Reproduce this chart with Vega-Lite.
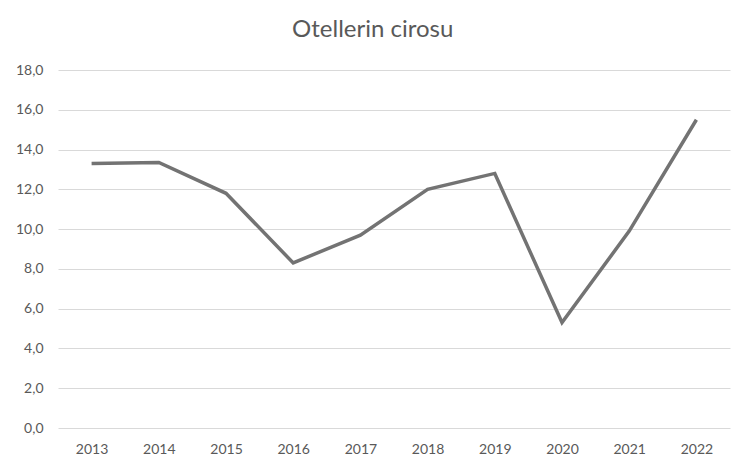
{
  "$schema": "https://vega.github.io/schema/vega-lite/v6.json",
  "autosize": {"type": "none"},
  "width": 672,
  "height": 358,
  "padding": {"left": 58, "top": 70, "right": 20, "bottom": 45},
  "background": "white",
  "title": {
    "text": "Otellerin cirosu",
    "font": "Lato",
    "fontSize": 24,
    "fontWeight": "normal",
    "color": "#595959",
    "anchor": "middle",
    "frame": "bounds",
    "offset": 21
  },
  "data": {
    "values": [
      {"year": "2013", "ciro": 13.3},
      {"year": "2014", "ciro": 13.35},
      {"year": "2015", "ciro": 11.8},
      {"year": "2016", "ciro": 8.3},
      {"year": "2017", "ciro": 9.7},
      {"year": "2018", "ciro": 12.0},
      {"year": "2019", "ciro": 12.8},
      {"year": "2020", "ciro": 5.3},
      {"year": "2021", "ciro": 9.9},
      {"year": "2022", "ciro": 15.5}
    ]
  },
  "mark": {"type": "line", "color": "#737373", "strokeWidth": 3.5, "strokeJoin": "miter"},
  "encoding": {
    "x": {
      "field": "year",
      "type": "ordinal",
      "scale": {"type": "point", "padding": 0.5},
      "axis": {
        "title": null,
        "labelAngle": 0,
        "ticks": false,
        "domain": false,
        "labelPadding": 14,
        "labelFont": "Lato",
        "labelFontSize": 14,
        "labelColor": "#595959"
      }
    },
    "y": {
      "field": "ciro",
      "type": "quantitative",
      "scale": {"domain": [0, 18], "nice": false},
      "axis": {
        "title": null,
        "values": [0, 2, 4, 6, 8, 10, 12, 14, 16, 18],
        "labelExpr": "replace(format(datum.value, '.1f'), '.', ',')",
        "ticks": false,
        "domain": false,
        "labelPadding": 15,
        "labelFont": "Lato",
        "labelFontSize": 14,
        "labelColor": "#595959",
        "gridColor": "#d9d9d9",
        "gridWidth": 1.2
      }
    }
  },
  "config": {"view": {"stroke": null}}
}
